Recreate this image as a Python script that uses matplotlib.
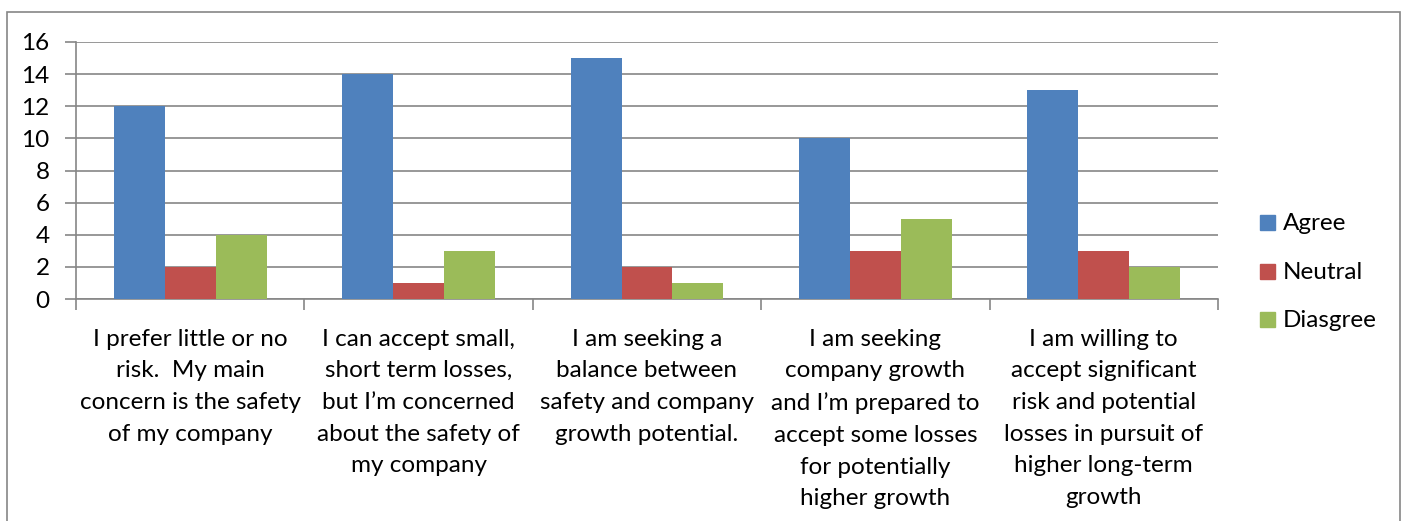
import numpy as np
import matplotlib
matplotlib.use("Agg")
import matplotlib.pyplot as plt
from matplotlib.patches import Rectangle

# ----- data -----
categories = [
    "I prefer little or no\nrisk.  My main\nconcern is the safety\nof my company",
    "I can accept small,\nshort term losses,\nbut I\u2019m concerned\nabout the safety of\nmy company",
    "I am seeking a\nbalance between\nsafety and company\ngrowth potential.",
    "I am seeking\ncompany growth\nand I\u2019m prepared to\naccept some losses\nfor potentially\nhigher growth",
    "I am willing to\naccept significant\nrisk and potential\nlosses in pursuit of\nhigher long-term\ngrowth",
]
agree = [12, 14, 15, 10, 13]
neutral = [2, 1, 2, 3, 3]
disagree = [4, 3, 1, 5, 2]
series_names = ["Agree", "Neutral", "Diasgree"]
colors = ["#4F81BD", "#C0504D", "#9BBB59"]

plt.rcParams['font.family'] = ['Lato', 'DejaVu Sans']
fs = 17.5
W, H = 1405, 521

fig = plt.figure(figsize=(W/100, H/100), dpi=100)
ax = fig.add_axes([76/W, 1-299/H, (1218-76)/W, (299-42)/H])

x = np.arange(len(categories))
w = 0.223
for k, vals in enumerate([agree, neutral, disagree]):
    ax.bar(x + (k-1)*w, vals, width=w, color=colors[k], zorder=3)

ax.set_xlim(-0.5, 4.5)
ax.set_ylim(0, 16)
ax.set_yticks(range(0, 17, 2))
ax.yaxis.grid(True, color="#868686", linewidth=1.2, zorder=0)
ax.tick_params(axis='y', length=8, color="#868686", labelsize=fs, pad=11, width=1.2)

# category boundary ticks + labels
ax.set_xticks(np.arange(-0.5, 5, 1))
ax.set_xticklabels([])
ax.tick_params(axis='x', length=8, color="#868686", width=1.2)
for i, lab in enumerate(categories):
    ax.text(i, -0.115, lab, transform=ax.get_xaxis_transform(), ha='center', va='top',
            fontsize=fs, linespacing=1.63)

for s in ['top', 'right']:
    ax.spines[s].set_visible(False)
for s in ['left', 'bottom']:
    ax.spines[s].set_color("#868686")
    ax.spines[s].set_linewidth(1.2)

# legend drawn by hand (square + label), positions in pixels
leg_bottom = [230, 279, 327]
for name, c, yb in zip(series_names, colors, leg_bottom):
    fig.patches.append(Rectangle((1260/W, 1-yb/H), 15/W, 15/H,
                                 transform=fig.transFigure, color=c))
    fig.text(1283/W, 1-yb/H, name, fontsize=fs, va='baseline', ha='left')

fig.patches.append(Rectangle((7/W, -0.05), (1400-7)/W, 1.05 - 12/H,
                             transform=fig.transFigure, fill=False,
                             edgecolor="#868686", linewidth=1.2))

fig.savefig("out.png", dpi=100)
